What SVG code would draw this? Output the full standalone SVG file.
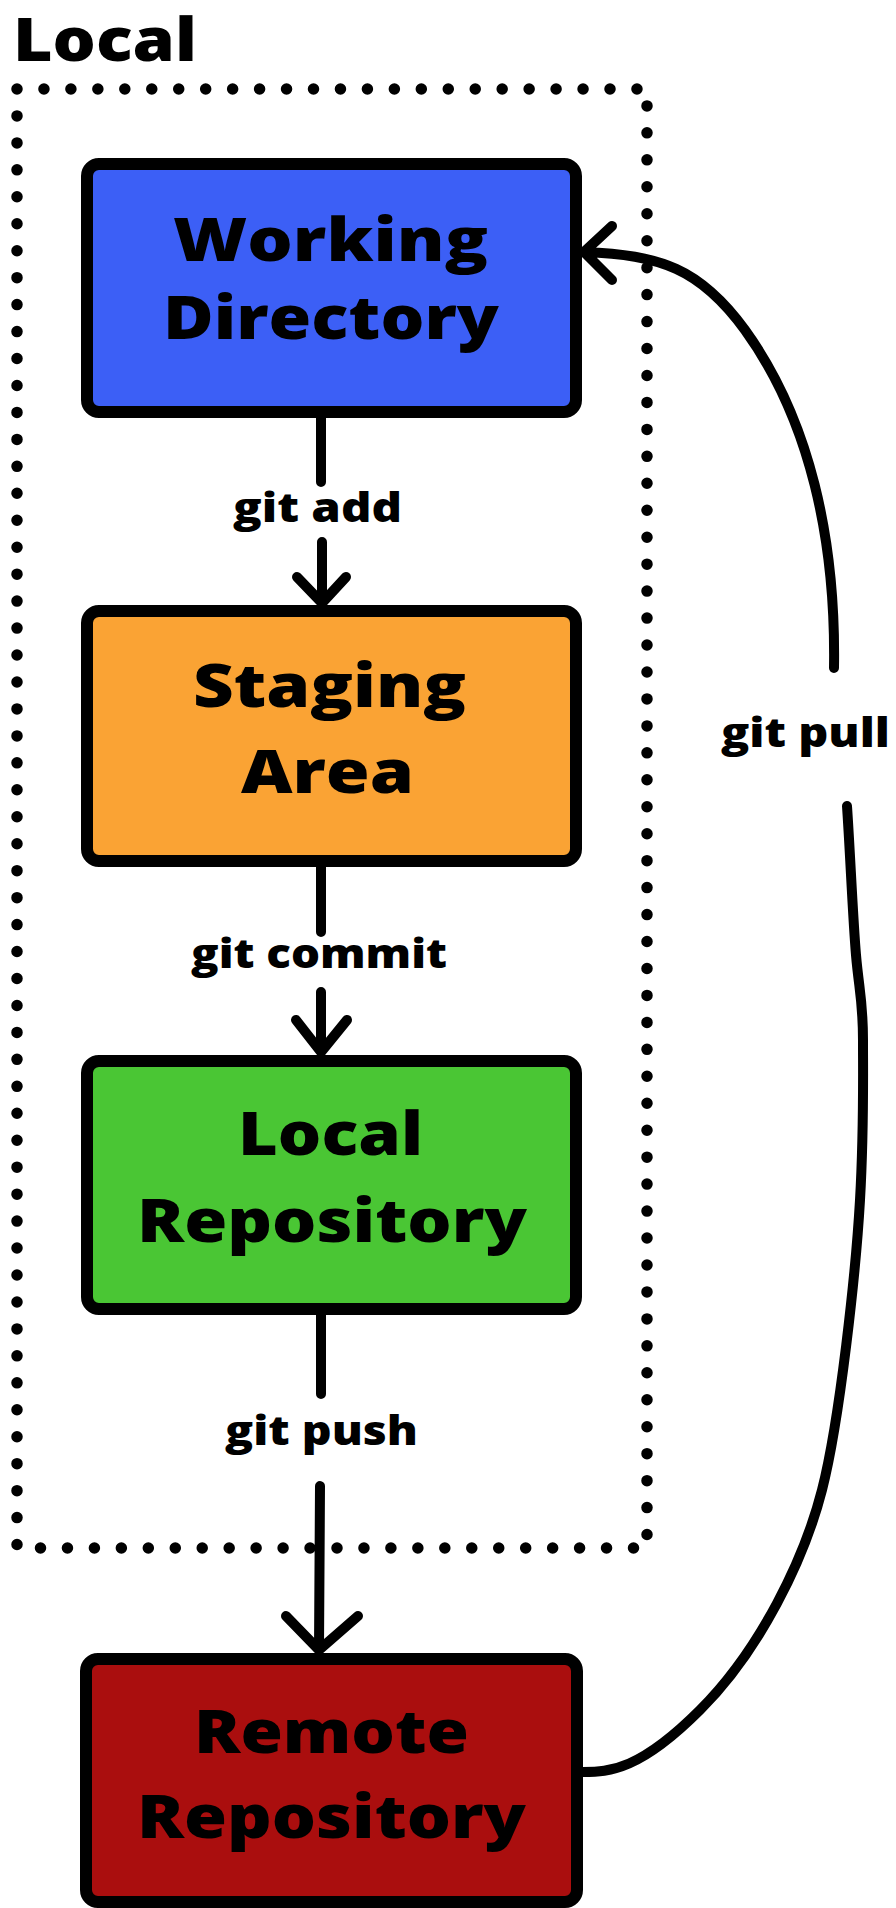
<svg xmlns="http://www.w3.org/2000/svg" width="896" height="1908" viewBox="0 0 896 1908">
<style>
.box{stroke:#000;stroke-width:12;stroke-linejoin:round}
.nt{font-family:"Open Sans","Liberation Sans",sans-serif;font-weight:800;font-size:60px;fill:#000}
.lt{font-family:"Open Sans","Liberation Sans",sans-serif;font-weight:800;font-size:40px;fill:#000}
.ln{fill:none;stroke:#000;stroke-width:10;stroke-linecap:round;stroke-linejoin:round}
.dot{fill:none;stroke:#000;stroke-width:11.5;stroke-linecap:round;stroke-dasharray:0 26.955}
</style>
<rect width="896" height="1908" fill="#fff"/>
<g id="local-group">
<text class="nt" x="13" y="61" font-size="64" textLength="184" lengthAdjust="spacingAndGlyphs">Local</text>
<rect class="dot" x="17" y="89" width="630" height="1459"/>
</g>
<g id="working-directory">
<rect class="box" x="87" y="164" width="489" height="248" rx="12" fill="#3C5FF6"/>
<text class="nt" x="173" y="261" textLength="315" lengthAdjust="spacingAndGlyphs">Working</text>
<text class="nt" x="163" y="339" textLength="336" lengthAdjust="spacingAndGlyphs">Directory</text>
</g>
<g id="staging-area">
<rect class="box" x="87" y="611" width="489" height="250" rx="12" fill="#FAA334"/>
<text class="nt" x="193" y="707" textLength="273" lengthAdjust="spacingAndGlyphs">Staging</text>
<text class="nt" x="241" y="793" textLength="173" lengthAdjust="spacingAndGlyphs">Area</text>
</g>
<g id="local-repository">
<rect class="box" x="87" y="1061" width="489" height="248" rx="12" fill="#4AC634"/>
<text class="nt" x="238" y="1155" textLength="185" lengthAdjust="spacingAndGlyphs">Local</text>
<text class="nt" x="137" y="1242" textLength="390" lengthAdjust="spacingAndGlyphs">Repository</text>
</g>
<g id="remote-repository">
<rect class="box" x="86" y="1659" width="491" height="243" rx="12" fill="#AA0E0E"/>
<text class="nt" x="194" y="1753" textLength="275" lengthAdjust="spacingAndGlyphs">Remote</text>
<text class="nt" x="137" y="1838" textLength="389" lengthAdjust="spacingAndGlyphs">Repository</text>
</g>
<g id="connectors">
<path class="ln" d="M321 418 L321 482 M322 542 L322 603 M297 577 L322 603 L346 577"/>
<text class="lt" x="233" y="522" textLength="169" lengthAdjust="spacingAndGlyphs">git add</text>
<path class="ln" d="M321 867 L321 932 M321 992 L321 1052 M296 1020 L321 1052 L347 1020"/>
<text class="lt" x="191" y="968" textLength="256" lengthAdjust="spacingAndGlyphs">git commit</text>
<path class="ln" d="M321 1315 L321 1394 M320 1486 L319 1650 M286 1616 L319 1650 L358 1616"/>
<text class="lt" x="225" y="1445" textLength="193" lengthAdjust="spacingAndGlyphs">git push</text>
<path class="ln" d="M847 806 C850 850 853 920 856 955 S863 1000 863 1040 S864 1130 860 1200 S840 1420 822 1490 S760 1650 700 1710 S610 1772 583 1772"/>
<path class="ln" d="M834 668 C836 540 810 420 745 330 C700 268 660 255 584 252 M612 226 L584 252 L612 280"/>
<text class="lt" x="721" y="747" textLength="169" lengthAdjust="spacingAndGlyphs">git pull</text>
</g>
</svg>
